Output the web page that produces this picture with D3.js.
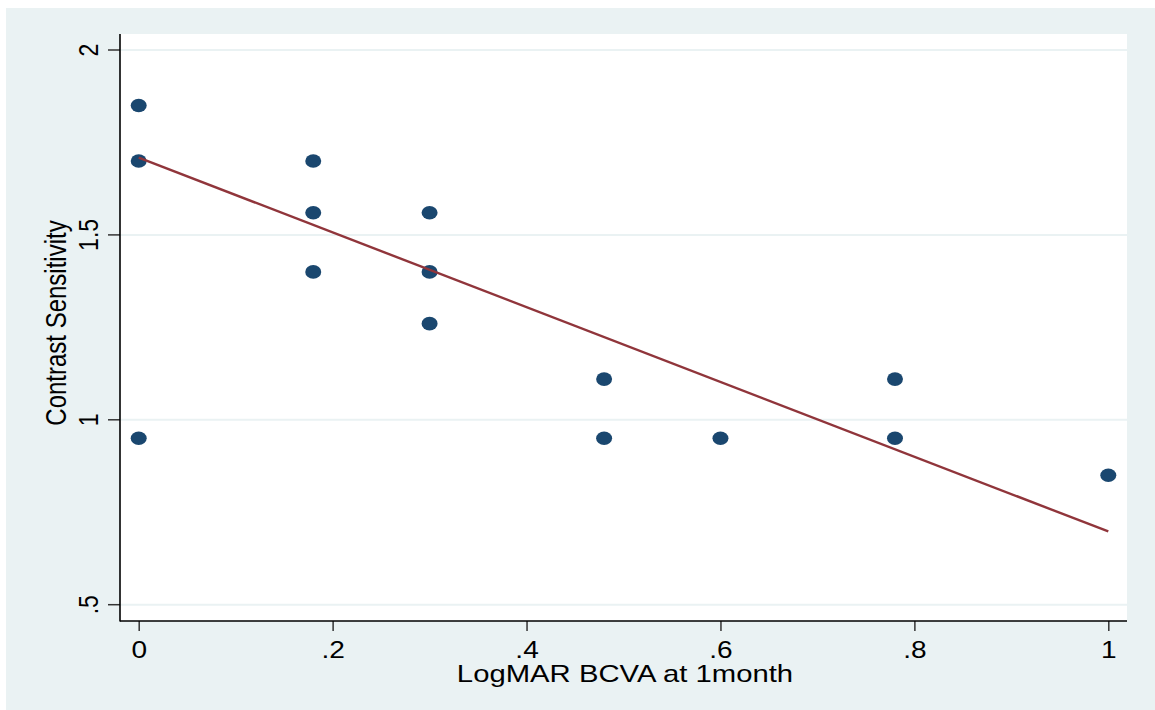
<!DOCTYPE html>
<html>
<head>
<meta charset="utf-8">
<script src="https://cdn.jsdelivr.net/npm/d3@7"></script>
<style>
  html, body { margin: 0; padding: 0; background: #ffffff; }
  svg { display: block; }
  text { font-family: "Liberation Sans", Arial, sans-serif; fill: #000; }
</style>
</head>
<body>
<svg id="chart" width="1155" height="710"></svg>
<script>
// Observations: LogMAR BCVA at 1 month vs contrast sensitivity
const bcva = [0, 0, 0, 0.18, 0.18, 0.18, 0.3, 0.3, 0.3, 0.48, 0.48, 0.6, 0.78, 0.78, 1];
const contrast = [1.85, 1.7, 0.95, 1.7, 1.56, 1.4, 1.56, 1.4, 1.26, 1.11, 0.95, 0.95, 1.11, 0.95, 0.85];

// Linear fit line endpoints
const fitX = [0, 1];
const fitY = [1.709, 0.698];

// Axis ticks and labels
const xTicks = [0, 0.2, 0.4, 0.6, 0.8, 1];
const xTickLabels = ["0", ".2", ".4", ".6", ".8", "1"];
const yTicks = [0.5, 1, 1.5, 2];
const yTickLabels = [".5", "1", "1.5", "2"];

const xTitle = "LogMAR BCVA at 1month";
const yTitle = "Contrast Sensitivity";

const W = 1155, H = 710;
const plot = { left: 120, right: 1127, top: 34, bottom: 621 };
const STRETCH = 1.22; // horizontal widening applied to text
const BG = "#eaf2f3";

const svg = d3.select("#chart");

// outer background
svg.append("rect").attr("x", 6).attr("y", 8).attr("width", W - 6).attr("height", H - 8).attr("fill", BG);
// plot region
svg.append("rect").attr("x", plot.left).attr("y", plot.top)
  .attr("width", plot.right - plot.left).attr("height", plot.bottom - plot.top).attr("fill", "#ffffff");

const x = d3.scaleLinear().domain([0, 1]).range([138.7, 1108.3]);
const y = d3.scaleLinear().domain([0.5, 2]).range([604.7, 50]);

// horizontal gridlines
svg.append("g").selectAll("line").data(yTicks).join("line")
  .attr("x1", plot.left).attr("x2", plot.right)
  .attr("y1", d => y(d)).attr("y2", d => y(d))
  .attr("stroke", BG).attr("stroke-width", 2);

// y axis
const yAxis = svg.append("g").attr("transform", `translate(${plot.left},0)`)
  .call(d3.axisLeft(y).tickValues(yTicks).tickSize(12).tickSizeOuter(0)
    .tickFormat((d, i) => yTickLabels[i]));
yAxis.select(".domain").remove();
yAxis.selectAll(".tick").attr("transform", null);
yAxis.selectAll(".tick line")
  .attr("y1", d => y(d)).attr("y2", d => y(d))
  .attr("stroke", "#333").attr("stroke-width", 1.5);
yAxis.selectAll(".tick text")
  .attr("x", null).attr("dy", null).attr("y", 0)
  .attr("font-size", 23).attr("text-anchor", "middle")
  .attr("transform", d => `translate(${97.5 - plot.left},${y(d)}) scale(${STRETCH},1) rotate(-90)`);
yAxis.attr("font-family", null).attr("font-size", null);

// x axis
const xAxis = svg.append("g").attr("transform", `translate(0,${plot.bottom})`)
  .call(d3.axisBottom(x).tickValues(xTicks).tickSize(10).tickSizeOuter(0)
    .tickFormat((d, i) => xTickLabels[i]));
xAxis.select(".domain").remove();
xAxis.selectAll(".tick line").attr("stroke", "#333").attr("stroke-width", 1.5);
xAxis.selectAll(".tick text")
  .attr("dy", null).attr("y", null)
  .attr("font-size", 23).attr("text-anchor", "middle")
  .attr("transform", `translate(0,${657.5 - plot.bottom}) scale(${STRETCH},1)`);
xAxis.attr("font-family", null).attr("font-size", null);

// axis lines
svg.append("line").attr("x1", plot.left).attr("x2", plot.left)
  .attr("y1", plot.top).attr("y2", plot.bottom + 0.5)
  .attr("stroke", "#000").attr("stroke-width", 1.6);
svg.append("line").attr("x1", plot.left).attr("x2", plot.right)
  .attr("y1", plot.bottom).attr("y2", plot.bottom)
  .attr("stroke", "#000").attr("stroke-width", 1.6);

// axis titles
svg.append("text")
  .attr("font-size", 24).attr("text-anchor", "middle")
  .attr("transform", `translate(625,681.5) scale(${STRETCH},1)`)
  .text(xTitle);
svg.append("text")
  .attr("font-size", 24).attr("text-anchor", "middle")
  .attr("transform", `translate(66,323) scale(${STRETCH},1) rotate(-90)`)
  .text(yTitle);

// scatter markers
const pts = bcva.map((v, i) => ({ x: v, y: contrast[i] }));
svg.append("g").selectAll("ellipse").data(pts).join("ellipse")
  .attr("cx", d => x(d.x)).attr("cy", d => y(d.y))
  .attr("rx", 8).attr("ry", 6.8)
  .attr("fill", "#1a476f");

// fitted line
const fit = fitX.map((v, i) => [v, fitY[i]]);
svg.append("path")
  .attr("d", d3.line().x(d => x(d[0])).y(d => y(d[1]))(fit))
  .attr("fill", "none").attr("stroke", "#90353b").attr("stroke-width", 2.4);
</script>
</body>
</html>
